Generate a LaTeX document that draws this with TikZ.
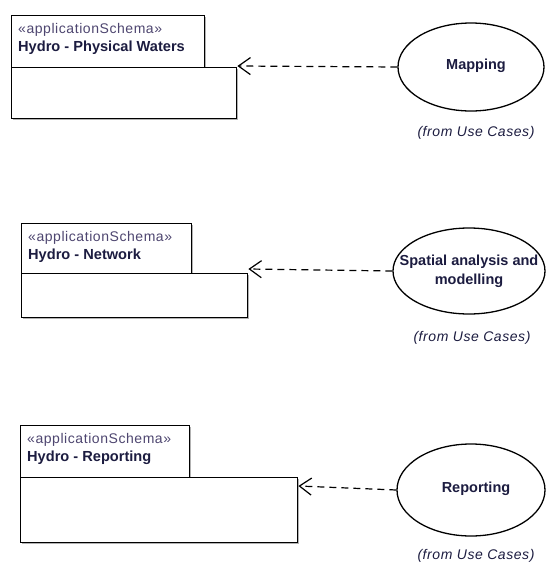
\documentclass[tikz,border=0pt]{standalone}
\usepackage{fontspec}
\setmainfont{Liberation Sans}
\usetikzlibrary{arrows.meta,shapes.geometric}
\definecolor{nametxt}{RGB}{28,28,64}
\definecolor{stereotxt}{RGB}{78,70,112}
\tikzset{
  pkgtab/.style={draw=black, line width=1.4pt, fill=white, rectangle, anchor=north west, inner sep=0pt},
  pkgbody/.style={draw=black, line width=1.4pt, fill=white, rectangle, anchor=north west, inner sep=0pt},
  stereo/.style={anchor=west, inner sep=0pt, text=stereotxt, font=\fontsize{14}{16}\selectfont\addfontfeature{LetterSpace=4}},
  pname/.style={anchor=west, inner sep=0pt, text=nametxt, font=\bfseries\fontsize{14.6}{17}\selectfont},
  usecase/.style={draw=black, line width=1.3pt, fill=white, ellipse, inner sep=0pt},
  uctext/.style={inner sep=0pt, text=nametxt, font=\bfseries\fontsize{14.5}{19}\selectfont, align=center},
  fromlbl/.style={inner sep=0pt, text=nametxt, font=\itshape\fontsize{14}{16}\selectfont\addfontfeature{LetterSpace=4}},
  dep/.style={draw=black, line width=1.2pt, dash pattern=on 7pt off 5pt, -{Straight Barb[length=12pt,width=17pt,line width=1.2pt]}},
  shadowbox/.style={fill=black!30, draw=none}
}
\begin{document}
\begin{tikzpicture}[x=1pt,y=-1pt]
\useasboundingbox (0,0) rectangle (547,563);

% ---------- Package 1 ----------
\fill[shadowbox] (13,17) rectangle (206,69);
\fill[shadowbox] (13,69) rectangle (238,120);
\node[pkgtab, minimum width=193pt, minimum height=52pt] (tab1) at (11,15) {};
\node[pkgbody, minimum width=225pt, minimum height=51pt] (body1) at (11,67) {};
\node[stereo] (st1) at (18,30) {«applicationSchema»};
\node[pname] (nm1) at (18,48) {Hydro - Physical Waters};

% ---------- Package 2 ----------
\fill[shadowbox] (23,225) rectangle (193,275);
\fill[shadowbox] (23,275) rectangle (249,319);
\node[pkgtab, minimum width=170pt, minimum height=50pt] (tab2) at (21,223) {};
\node[pkgbody, minimum width=226pt, minimum height=44pt] (body2) at (21,273) {};
\node[stereo] (st2) at (28,238) {«applicationSchema»};
\node[pname] (nm2) at (28,256) {Hydro - Network};

% ---------- Package 3 ----------
\fill[shadowbox] (22,427) rectangle (191,479);
\fill[shadowbox] (22,479) rectangle (299,544);
\node[pkgtab, minimum width=169pt, minimum height=52pt] (tab3) at (20,425) {};
\node[pkgbody, minimum width=277pt, minimum height=65pt] (body3) at (20,477) {};
\node[stereo] (st3) at (27,440) {«applicationSchema»};
\node[pname] (nm3) at (27,458) {Hydro - Reporting};

% ---------- Use cases ----------
\node[usecase, minimum width=146pt, minimum height=88pt] (uc1) at (471,67) {};
\node[uctext] (u1) at (476,66) {Mapping};
\node[fromlbl] (f1) at (476,133) {(from Use Cases)};

\node[usecase, minimum width=152pt, minimum height=86pt] (uc2) at (469,271) {};
\node[uctext] (u2) at (469,271) {Spatial analysis and\\modelling};
\node[fromlbl] (f2) at (472,338) {(from Use Cases)};

\node[usecase, minimum width=148pt, minimum height=92pt] (uc3) at (471,490) {};
\node[uctext] (u3) at (476,489) {Reporting};
\node[fromlbl] (f3) at (476,556) {(from Use Cases)};

% ---------- Dependencies ----------
\coordinate (t1) at ([yshift=1pt]body1.north east);
\coordinate (t2) at ([yshift=4pt]body2.north east);
\coordinate (t3) at ([yshift=-9pt]body3.north east);
\draw[dep] (uc1.west) -- (t1);
\draw[dep] (uc2.west) -- (t2);
\draw[dep] (uc3.west) -- (t3);
\end{tikzpicture}
\end{document}
